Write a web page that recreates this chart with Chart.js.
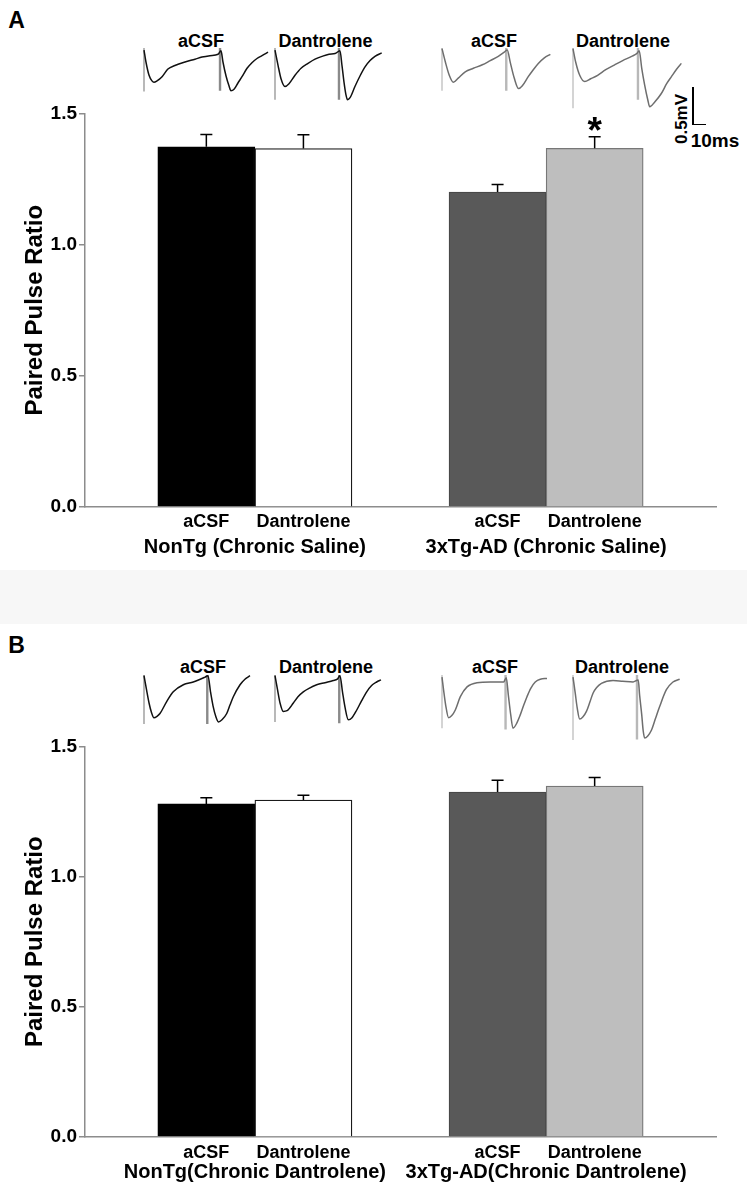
<!DOCTYPE html>
<html><head><meta charset="utf-8">
<script src="https://cdn.jsdelivr.net/npm/chart.js@4.4.1/dist/chart.umd.min.js"></script>
<style>
html,body{margin:0;padding:0;background:#fff;}
body{width:747px;height:1190px;position:relative;overflow:hidden;font-family:"Liberation Sans",Arial,Helvetica,sans-serif;}
canvas{position:absolute;}
.t{position:absolute;font-weight:bold;line-height:1;white-space:nowrap;transform:translate(-50%,-50%);color:#000;}
.band{position:absolute;left:0;top:570px;width:747px;height:54px;background:#f7f7f7;}
.ln{position:absolute;background:#000;}
</style></head><body>
<div class="band"></div>
<div class="t" style="left:16.5px;top:20px;font-size:23px;">A</div>
<div class="t" style="left:16.5px;top:645px;font-size:23px;">B</div>
<div class="t" style="left:201px;top:41px;font-size:18px;">aCSF</div>
<div class="t" style="left:325.5px;top:41px;font-size:18px;">Dantrolene</div>
<div class="t" style="left:494px;top:41px;font-size:18px;">aCSF</div>
<div class="t" style="left:623px;top:41px;font-size:18px;">Dantrolene</div>
<div class="t" style="left:203px;top:667px;font-size:18px;">aCSF</div>
<div class="t" style="left:326px;top:667px;font-size:18px;">Dantrolene</div>
<div class="t" style="left:495px;top:667px;font-size:18px;">aCSF</div>
<div class="t" style="left:622px;top:667px;font-size:18px;">Dantrolene</div>
<div class="ln" style="left:692px;top:87px;width:1.5px;height:38px;"></div>
<div class="ln" style="left:692px;top:123.5px;width:14px;height:1.5px;"></div>
<div class="t" style="left:681px;top:119px;font-size:17px;transform:translate(-50%,-50%) rotate(-90deg);">0.5mV</div>
<div class="t" style="left:715px;top:140px;font-size:19px;">10ms</div>
<canvas id="chartA" width="747" height="473" style="left:0;top:100px;"></canvas>
<canvas id="chartB" width="747" height="457" style="left:0;top:733px;"></canvas>
<script>
// ---------- data ----------
const slots = ['aCSF', 'Dantrolene', '', 'aCSF', 'Dantrolene'];
const groupsA = ['NonTg (Chronic Saline)', '3xTg-AD (Chronic Saline)'];
const groupsB = ['NonTg(Chronic Dantrolene)', '3xTg-AD(Chronic Dantrolene)'];
const yTicks = [0, 0.5, 1.0, 1.5];
const pprA = [1.373, 1.366, 1.200, 1.367];
const semA = [0.047, 0.053, 0.029, 0.044];
const sigA = ['', '', '', '*'];
const pprB = [1.279, 1.294, 1.325, 1.348];
const semB = [0.024, 0.018, 0.045, 0.033];
const sigB = ['', '', '', ''];

// example traces: [time ms, mV]
const trA_nonTg_aCSF = [[0,-0.03],[1.4,-0.20],[3.6,-0.39],[5.7,-0.47],[7.1,-0.49],[9.3,-0.47],[12.9,-0.41],[17.1,-0.30],[22.1,-0.25],[29.3,-0.20],[36.4,-0.16],[41.4,-0.13],[47.1,-0.11],[52.9,-0.09],
  [55.0,-0.04],[56.4,-0.20],[58.6,-0.40],[60.7,-0.54],[62.1,-0.61],[64.3,-0.59],[67.1,-0.50],[70.0,-0.41],[73.6,-0.29],[77.1,-0.21],[80.7,-0.15],[84.3,-0.11],[88.6,-0.06]];
const trA_nonTg_dant = [[0,-0.03],[2.1,-0.24],[4.3,-0.44],[7.1,-0.55],[10.0,-0.51],[14.3,-0.39],[18.6,-0.29],[23.6,-0.22],[28.6,-0.16],[33.6,-0.12],[38.6,-0.09],[42.9,-0.08],
  [46.4,-0.04],[47.9,-0.26],[49.3,-0.49],[50.7,-0.67],[51.8,-0.74],[53.6,-0.71],[57.1,-0.55],[60.7,-0.40],[64.3,-0.27],[67.9,-0.18],[71.4,-0.12],[76.2,-0.07]];
const trA_tg_aCSF = [[0,-0.01],[2.4,-0.20],[5.2,-0.39],[8.1,-0.49],[11.6,-0.43],[16.6,-0.34],[22.4,-0.29],[28.8,-0.24],[34.5,-0.18],[40.2,-0.12],[44.5,-0.06],
  [46.6,-0.03],[48.8,-0.21],[51.6,-0.43],[54.7,-0.58],[57.4,-0.54],[61.6,-0.41],[65.2,-0.31],[68.8,-0.22],[73.1,-0.14],[77.4,-0.09]];
const trA_tg_dant = [[0,-0.01],[1.9,-0.20],[4.8,-0.39],[8.4,-0.48],[12.6,-0.44],[17.6,-0.39],[23.4,-0.31],[29.8,-0.24],[35.5,-0.18],[41.9,-0.12],[45.5,-0.08],
  [47.3,-0.04],[49.1,-0.29],[51.2,-0.53],[53.4,-0.74],[54.8,-0.84],[58.4,-0.77],[63.1,-0.65],[66.9,-0.51],[70.3,-0.41],[74.1,-0.30],[77.4,-0.22]];
const trB_nonTg_aCSF = [[0,-0.01],[1.8,-0.21],[3.6,-0.40],[5.4,-0.54],[7.1,-0.61],[9.3,-0.59],[11.4,-0.55],[16.2,-0.38],[20.9,-0.24],[28.1,-0.14],[35.2,-0.10],[43.6,-0.03],
  [45.7,-0.01],[47.5,-0.24],[49.3,-0.44],[51.4,-0.60],[53.1,-0.67],[55.7,-0.64],[59.1,-0.55],[61.4,-0.43],[63.8,-0.31],[68.6,-0.14],[72.1,-0.06],[75.7,-0.01]];
const trB_nonTg_dant = [[0,-0.01],[1.8,-0.21],[3.6,-0.40],[5.9,-0.52],[8.6,-0.51],[13.1,-0.40],[16.4,-0.31],[20.2,-0.24],[24.3,-0.19],[29.8,-0.14],[35.7,-0.11],[41.6,-0.08],[44.5,-0.06],
  [46.4,-0.01],[48.2,-0.24],[50.0,-0.46],[52.4,-0.64],[55.0,-0.61],[58.4,-0.50],[61.8,-0.37],[65.5,-0.24],[69.0,-0.15],[72.6,-0.10],[75.7,-0.07]];
const trB_tg_aCSF = [[0,-0.03],[1.3,-0.24],[2.7,-0.44],[4.7,-0.61],[7.0,-0.58],[9.5,-0.50],[13.1,-0.31],[17.9,-0.17],[25.0,-0.11],[34.5,-0.10],[44.0,-0.10],
  [45.9,-0.04],[47.4,-0.29],[49.1,-0.57],[50.7,-0.76],[53.1,-0.70],[55.9,-0.57],[58.4,-0.43],[60.7,-0.31],[63.4,-0.19],[66.6,-0.10],[70.2,-0.06],[75.0,-0.05]];
const trB_tg_dant = [[0,-0.03],[1.6,-0.26],[3.0,-0.47],[4.8,-0.63],[7.0,-0.60],[9.6,-0.52],[12.0,-0.39],[14.3,-0.26],[16.9,-0.18],[20.3,-0.12],[28.6,-0.08],[35.5,-0.09],[42.9,-0.10],
  [46.6,-0.07],[47.6,-0.29],[49.1,-0.57],[50.1,-0.79],[51.2,-0.90],[53.4,-0.87],[56.0,-0.79],[59.1,-0.61],[61.9,-0.45],[66.7,-0.21],[71.4,-0.10],[76.2,-0.06]];
// stimulus artifacts: [time ms, lowest mV]
const artA_nonTg_aCSF = [[0,-0.62],[54.3,-0.61]];
const artA_nonTg_dant = [[0,-0.74],[45.7,-0.74]];
const artA_tg_aCSF = [[0,-0.61],[45.9,-0.61]];
const artA_tg_dant = [[0,-0.86],[46.4,-0.74]];
const artB_nonTg_aCSF = [[0,-0.70],[45.2,-0.70]];
const artB_nonTg_dant = [[0,-0.67],[45.9,-0.69]];
const artB_tg_aCSF = [[0,-0.76],[45.4,-0.78]];
const artB_tg_dant = [[0,-0.93],[45.7,-0.92]];

// ---------- styles ----------
const FONT = '"Liberation Sans", Arial, Helvetica, sans-serif';
const AX = '#8c8c8c';
const barFill = ['#000000', '#ffffff', '#595959', '#bebebe'];
const barEdge = ['#000000', '#1a1a1a', '#484848', '#777777'];

const errPlugin = (sem, sig) => ({
  id: 'errbars',
  afterDatasetsDraw(chart) {
    const ctx = chart.ctx, meta = chart.getDatasetMeta(0), ys = chart.scales.y;
    const ds = chart.data.datasets[0].data;
    ctx.save();
    ctx.strokeStyle = '#000'; ctx.lineWidth = 1.5;
    meta.data.forEach((el, i) => {
      const top = ys.getPixelForValue(ds[i].y + sem[i]);
      ctx.beginPath();
      ctx.moveTo(el.x, el.y); ctx.lineTo(el.x, top);
      ctx.moveTo(el.x - 6, top); ctx.lineTo(el.x + 6, top);
      ctx.stroke();
      if (sig[i]) {
        ctx.fillStyle = '#000'; ctx.font = 'bold 37px ' + FONT;
        ctx.textAlign = 'center'; ctx.textBaseline = 'alphabetic';
        ctx.fillText(sig[i], el.x, top + 6);
      }
    });
    ctx.restore();
  }
});

function barChart(id, ppr, sem, sig, groups, cfg) {
  const barSlots = slots.map((l, i) => l ? i : null).filter(v => v !== null);
  const data = barSlots.map((s, k) => ({x: s, y: ppr[k]}));
  const groupCenters = [(barSlots[0] + barSlots[1]) / 2, (barSlots[2] + barSlots[3]) / 2];
  new Chart(document.getElementById(id), {
    type: 'bar',
    data: {datasets: [{data, backgroundColor: barFill, borderColor: barEdge, borderWidth: 1.3,
      borderSkipped: 'bottom', barPercentage: 1, categoryPercentage: 1}]},
    options: {
      responsive: false, animation: false, events: [],
      layout: {padding: {left: 0, right: 31, top: 8, bottom: 0}},
      plugins: {legend: {display: false}, tooltip: {enabled: false}},
      scales: {
        x: {type: 'linear', position: 'bottom', min: -1.25, max: 5.25, offset: false,
          grid: {display: false, drawTicks: false, offset: false},
          border: {display: true, color: AX, width: 1.5},
          afterBuildTicks: s => { s.ticks = barSlots.map(v => ({value: v})); },
          afterFit: s => { s.height = cfg.xh; },
          ticks: {autoSkip: false, maxRotation: 0, minRotation: 0, padding: cfg.xpad, color: '#000',
            font: {size: 18, weight: 'bold', family: FONT, lineHeight: 1.2}, callback: v => slots[v]}
        },
        x2: {type: 'linear', position: 'bottom', min: -1.25, max: 5.25, offset: false,
          grid: {display: false, drawTicks: false, offset: false}, border: {display: false},
          afterBuildTicks: s => { s.ticks = groupCenters.map(v => ({value: v})); },
          afterFit: s => { s.height = cfg.x2h; },
          ticks: {autoSkip: false, maxRotation: 0, minRotation: 0, padding: cfg.x2pad, color: '#000',
            font: {size: 20, weight: 'bold', family: FONT, lineHeight: 1.2},
            callback: v => groups[groupCenters.indexOf(v)]}
        },
        y: {min: 0, max: 1.5,
          afterBuildTicks: s => { s.ticks = yTicks.map(v => ({value: v})); },
          afterFit: s => { s.width = 85; },
          grid: {display: true, drawOnChartArea: false, drawTicks: true, tickLength: 6, color: AX, lineWidth: 1.5},
          border: {display: true, color: AX, width: 1.5},
          ticks: {padding: 2, color: '#000', font: {size: 19, weight: 'bold', family: FONT},
            callback: v => Number(v).toFixed(1)},
          title: {display: true, text: 'Paired Pulse Ratio', color: '#000',
            font: {size: 24, weight: 'bold', family: FONT, lineHeight: 1.2}, padding: {top: 21, bottom: 0}}
        }
      }
    },
    plugins: [errPlugin(sem, sig)]
  });
}

function traceChart(left, top, pts, arts, color, artColor) {
  const c = document.createElement('canvas');
  c.width = 140; c.height = 74;
  c.style.left = left + 'px'; c.style.top = top + 'px';
  document.body.appendChild(c);
  const sets = [{data: pts.map(p => ({x: p[0], y: p[1]})), showLine: true, borderColor: color,
    borderWidth: 1.5, pointRadius: 0, cubicInterpolationMode: 'monotone'}];
  arts.forEach((a, k) => sets.push({data: [{x: a[0], y: 0}, {x: a[0], y: a[1]}], showLine: true,
    borderColor: artColor, borderWidth: k ? 2.4 : 1.2, pointRadius: 0}));
  new Chart(c, {type: 'scatter', data: {datasets: sets}, options: {
    responsive: false, animation: false, events: [], layout: {padding: 0},
    plugins: {legend: {display: false}, tooltip: {enabled: false}},
    scales: {x: {type: 'linear', display: false, min: -5, max: 95},
             y: {type: 'linear', display: false, min: -1.0, max: 0.057}}
  }});
}

barChart('chartA', pprA, semA, sigA, groupsA, {xh: 26, xpad: 4, x2h: 40, x2pad: 2.5});
barChart('chartB', pprB, semB, sigB, groupsB, {xh: 22, xpad: 5, x2h: 31, x2pad: 1});

const K = '#111111', G = '#6e6e6e', KA = '#8a8a8a', GA = '#b8b8b8';
traceChart(137, 44, trA_nonTg_aCSF, artA_nonTg_aCSF, K, KA);
traceChart(268, 44, trA_nonTg_dant, artA_nonTg_dant, K, KA);
traceChart(434.7, 44, trA_tg_aCSF, artA_tg_aCSF, G, GA);
traceChart(566.3, 44, trA_tg_dant, artA_tg_dant, G, GA);
traceChart(137, 671, trB_nonTg_aCSF, artB_nonTg_aCSF, K, KA);
traceChart(268, 671, trB_nonTg_dant, artB_nonTg_dant, K, KA);
traceChart(434.7, 671, trB_tg_aCSF, artB_tg_aCSF, G, GA);
traceChart(566.3, 671, trB_tg_dant, artB_tg_dant, G, GA);
</script>
</body></html>
